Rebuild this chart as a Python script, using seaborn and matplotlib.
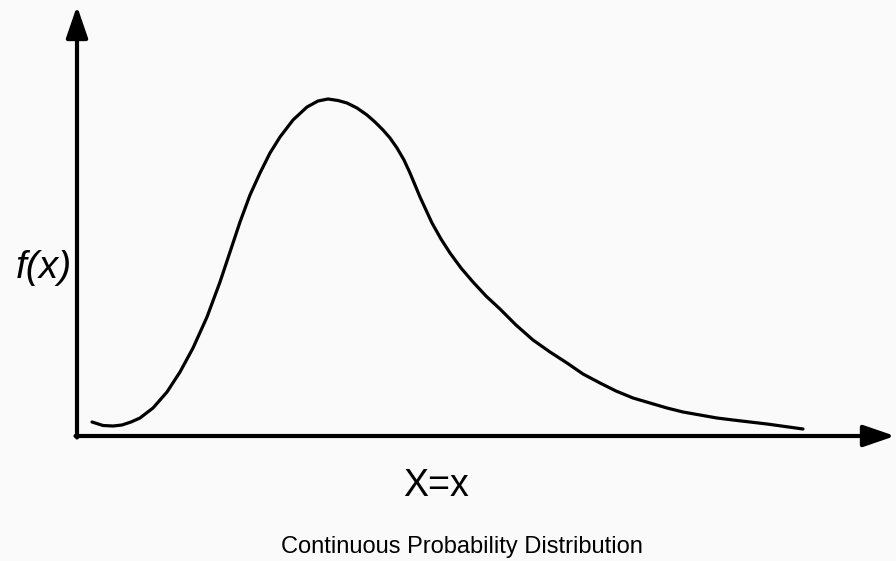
import numpy as np
import pandas as pd
import matplotlib
matplotlib.use("Agg")
import matplotlib.pyplot as plt
import seaborn as sns

# curve (x along axis, f(x) height above axis)
x_vals = [15, 26, 36, 45, 54, 63, 76, 90, 103, 116, 130, 143, 153, 163, 173,
          183, 193, 203, 216, 230, 241, 251, 261, 270, 280, 290, 298, 306, 313,
          320, 327, 333, 338, 343, 349, 355, 364, 373, 384, 396, 409, 423, 439,
          456, 473, 490, 506, 523, 539, 556, 573, 590, 606, 623, 640, 656, 673,
          690, 708, 726]
fx_vals = [14, 10.5, 10, 11, 14, 18, 28, 44, 64, 88, 119, 154, 184, 214, 241,
           263, 283, 299, 316, 329, 335, 337, 335.5, 333, 328, 321, 314, 306, 298,
           288, 276, 263, 251, 239, 226, 213, 197, 183, 168, 154, 140, 127, 111,
           96, 84, 73, 62, 53, 45, 38, 33, 28, 24, 21, 18, 16, 14,
           12, 9.5, 7]

x_label = "X=x"
y_label = "f(x)"
caption = "Continuous Probability Distribution"

df = pd.DataFrame({"x": x_vals, "fx": fx_vals})

sns.set_theme(style="white")
plt.rcParams["font.family"] = ["Liberation Sans", "DejaVu Sans"]
plt.rcParams["text.color"] = "black"

fig = plt.figure(figsize=(8.96, 5.61), dpi=100)
fig.patch.set_facecolor("#fafafa")
ax = fig.add_axes([0, 0, 1, 1])
ax.set_facecolor("#fafafa")

sns.lineplot(data=df, x="x", y="fx", color="black", linewidth=2.3, ax=ax,
             estimator=None, sort=False)

ax.set_xlim(-77, 896 - 77)
ax.set_ylim(436 - 561, 436)
ax.set_axis_off()

# axis arrows
arrow = dict(arrowstyle="-|>,head_length=1.6,head_width=0.55", color="black",
             lw=3, shrinkA=0, shrinkB=0)
ax.annotate("", xy=(0, 430), xytext=(0, -1.5), arrowprops=arrow,
            annotation_clip=False)
ax.annotate("", xy=(818, 0), xytext=(-1.5, 0), arrowprops=arrow,
            annotation_clip=False)

ax.text(-33, 168, y_label, fontsize=28, style="italic", ha="center", va="center",
        color="black")
ax.text(359, -50, x_label, fontsize=27, ha="center", va="center", color="black")
ax.text(385, -111, caption, fontsize=17, ha="center", va="center", color="black")

fig.savefig("out.png", dpi=100, facecolor=fig.get_facecolor())
